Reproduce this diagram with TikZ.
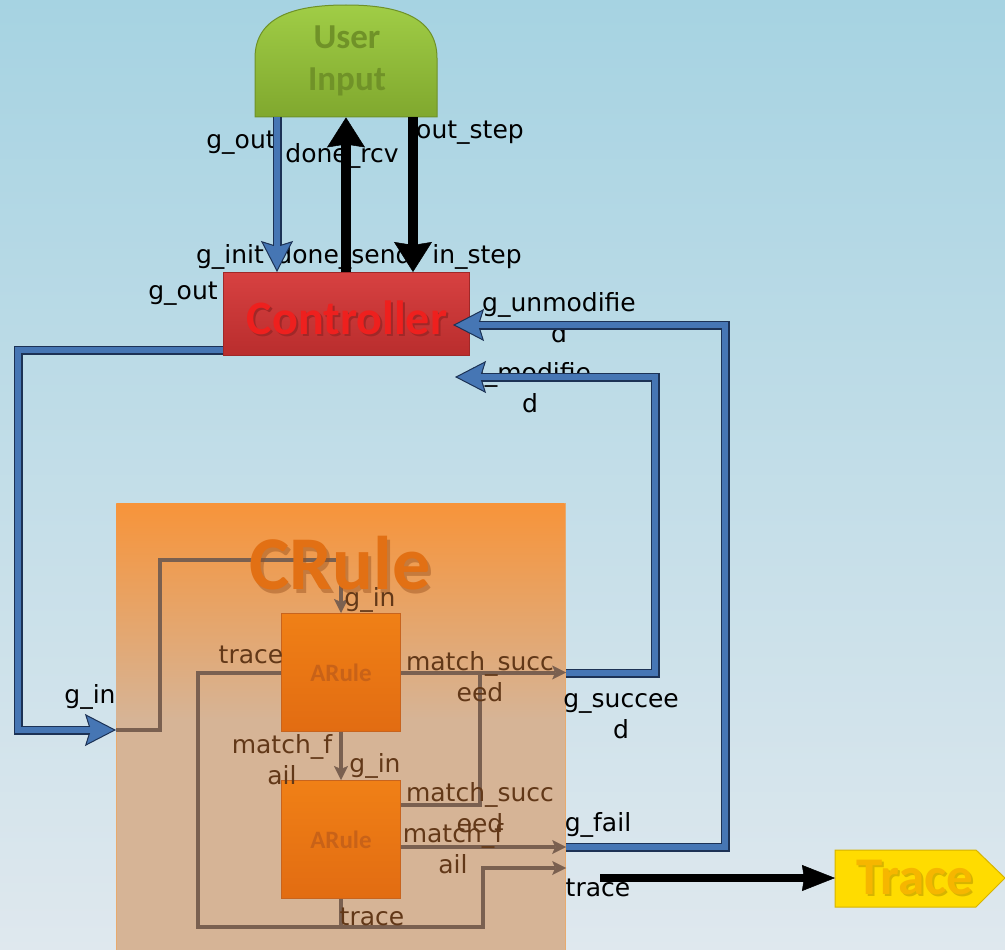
\documentclass[tikz,border=0pt]{standalone}
\usepackage{fontspec}
\setmainfont{DejaVu Sans}
\newfontfamily\tfont{Carlito}
\usetikzlibrary{arrows.meta}
\definecolor{bgTop}{RGB}{166,211,226}
\definecolor{bgBot}{RGB}{223,232,238}
\definecolor{uiTop}{RGB}{160,205,70}
\definecolor{uiBot}{RGB}{128,168,46}
\definecolor{uiEdge}{RGB}{110,145,40}
\definecolor{uiText}{RGB}{112,146,40}
\definecolor{ctTop}{RGB}{215,65,65}
\definecolor{ctBot}{RGB}{185,45,45}
\definecolor{ctEdge}{RGB}{160,40,40}
\definecolor{ctText}{RGB}{238,32,30}
\definecolor{blueD}{RGB}{28,50,85}
\definecolor{blueL}{RGB}{70,118,180}
\definecolor{crTop}{RGB}{247,148,58}
\definecolor{crBot}{RGB}{214,180,150}
\definecolor{crEdge}{RGB}{232,170,110}
\definecolor{crTitle}{RGB}{226,112,20}
\definecolor{crShadow}{RGB}{150,80,30}
\definecolor{arTop}{RGB}{240,128,22}
\definecolor{arBot}{RGB}{226,108,18}
\definecolor{arEdge}{RGB}{200,100,30}
\definecolor{arText}{RGB}{200,98,24}
\definecolor{brLine}{RGB}{122,96,80}
\definecolor{brText}{RGB}{98,56,24}
\definecolor{trFill}{RGB}{255,220,0}
\definecolor{trEdge}{RGB}{215,180,0}
\definecolor{trText}{RGB}{246,182,0}
\newcommand\bluepath[1]{\draw[bluedk,bluetip] #1; \draw[bluelt,shorten >=24pt] #1;}
\begin{document}
\begin{tikzpicture}[x=1pt,y=-1pt,
 lbl/.style={font=\fontsize{25}{31}\selectfont, inner sep=0pt, align=center, text=black},
 blbl/.style={lbl, text=brText},
 bluedk/.style={draw=blueD, line width=9pt, line join=miter},
 bluelt/.style={draw=blueL, line width=5.5pt, line join=miter},
 bluetip/.style={-{Stealth[length=31pt,width=32pt,inset=5pt,line width=1pt,fill=blueL]}},
 blk/.style={draw=black, line width=10pt, -{Stealth[length=30pt,width=38pt,inset=3pt,line width=0.5pt]}},
 brn/.style={draw=brLine, line width=4pt, line join=miter},
 brtip/.style={-{Stealth[length=14pt,width=14pt,inset=3pt,line width=0.5pt]}},
 arule/.style={anchor=north west, minimum width=119pt, minimum height=118pt, inner sep=0pt,
   top color=arTop, bottom color=arBot, draw=arEdge, line width=1pt,
   font=\tfont\bfseries\fontsize{25}{25}\selectfont, text=arText},
 ttl/.style={inner sep=0pt, font=\tfont\bfseries\fontsize{#1}{#1}\selectfont}
]
\useasboundingbox (0,0) rectangle (1005,950);
\shade[top color=bgTop,bottom color=bgBot] (0,0) rectangle (1005,950);

% ---------- coordinates for port levels
\coordinate (cA) at (277,0);
\coordinate (cB) at (346,0);
\coordinate (cC) at (413,0);
\coordinate (yO) at (0,350);
\coordinate (yIn) at (0,730);
\coordinate (yF) at (0,847);
\coordinate (yS) at (0,673);
\coordinate (y805) at (0,805);
\coordinate (y868) at (0,868);
\coordinate (y927) at (0,927);
\coordinate (gu) at (453,325);
\coordinate (gm) at (455,377);
\coordinate (tr0) at (600,878);

% ---------- CRule container
\node[anchor=north west, minimum width=449pt, minimum height=447pt, inner sep=0pt,
      fill=crBot, draw=crEdge, line width=1.2pt] (crule) at (116,503) {};
\shade[top color=crTop, bottom color=crBot] (116.6,503.6) rectangle (564.4,720);

% ---------- ARule boxes
\node[arule] (a1) at (281,613) {ARule};
\node[arule] (a2) at (281,780) {ARule};

% ---------- internal connectors
\draw[brn,brtip] (crule.west |- yIn) -- (160,730) -- (160,560) -| (a1.north);
\draw[brn] (a1.west) -| (198,927) -- (a2.south |- y927);
\draw[brn,brtip] (a1.east) -- (crule.east |- a1.east);
\draw[brn,brtip] (a1.south) -- (a2.north);
\draw[brn] (a2.east |- y805) -- (480,805) -- (480,673);
\draw[brn,brtip] (a2.east |- yF) -- (crule.east |- yF);
\draw[brn,brtip] (a2.south) -- (a2.south |- y927) -- (483,927) -- (483,868) -- (crule.east |- y868);

% CRule title
\node[ttl=76, text=crShadow, opacity=0.45] (crts) at (343,567) {CRule};
\node[ttl=76, text=crTitle] (crt) at (340,563) {CRule};

% ---------- User Input
\shade[top color=uiTop, bottom color=uiBot, draw=uiEdge, line width=1pt]
  (255,117) -- (255,58) .. controls (255,14) and (300,5) .. (346,5)
  .. controls (392,5) and (437,14) .. (437,58) -- (437,117) -- cycle;
\node[anchor=north west, minimum width=182pt, minimum height=112pt, inner sep=0pt] (ui) at (255,5) {};
\node[text=uiText, align=center, inner sep=0pt, font=\tfont\bfseries\fontsize{35}{42}\selectfont] (uit) at (347,61) {User\\Input};

% ---------- Controller
\node[anchor=north west, minimum width=246pt, minimum height=83pt, inner sep=0pt,
      top color=ctTop, bottom color=ctBot, draw=ctEdge, line width=1pt] (ctrl) at (223,272) {};
\node[ttl=48, text=ctEdge] (ctts) at (349,320) {Controller};
\node[ttl=48, text=ctText] (ctt) at (347,318) {Controller};

% ---------- Trace
\node[anchor=north west, minimum width=170pt, minimum height=57pt, inner sep=0pt] (trace) at (835,850) {};
\filldraw[fill=trFill, draw=trEdge, line width=1pt] (835,850) -- (976,850) -- (1005,878) -- (976,907) -- (835,907) -- cycle;
\node[ttl=53, text=trEdge] (trts) at (917,880) {Trace};
\node[ttl=53, text=trText] (trt) at (915,878) {Trace};

% ---------- labels
\node[lbl] (l1) at (241,143) {g\_out};
\node[lbl] (l2) at (342,156) {done\_rcv};
\node[lbl] (l3) at (470,133) {out\_step};
\node[lbl] (l4) at (230,257) {g\_init};
\node[lbl] (l5) at (344,257) {done\_send};
\node[lbl] (l6) at (477,257) {in\_step};
\node[lbl] (l7) at (183,294) {g\_out};
\node[lbl] (l8) at (559,318) {g\_unmodifie\\d};
\node[lbl] (l9) at (530,388) {g\_modifie\\d};
\node[lbl] (l10) at (90,697) {g\_in};
\node[lbl] (l11) at (621,716) {g\_succee\\d};
\node[lbl] (l12) at (598,825) {g\_fail};
\node[lbl] (l13) at (598,888) {trace};
\node[blbl] (m1) at (370,600) {g\_in};
\node[blbl] (m2) at (251,655) {trace};
\node[blbl] (m3) at (480,677) {match\_succ\\eed};
\node[blbl] (m4) at (282,760) {match\_f\\ail};
\node[blbl] (m5) at (375,766) {g\_in};
\node[blbl] (m6) at (480,808) {match\_succ\\eed};
\node[blbl] (m7) at (453,849) {match\_f\\ail};
\node[blbl] (m8) at (372,917) {trace};

% ---------- outer connectors
\bluepath{(ui.south -| cA) -- (ctrl.north -| cA)}
\draw[blk] (ctrl.north -| cB) -- (ui.south -| cB);
\draw[blk] (ui.south -| cC) -- (ctrl.north -| cC);
\bluepath{(ctrl.west |- yO) -| (18,730) -- (crule.west |- yIn)}
\bluepath{(crule.east |- yF) -| (725,325) -- (gu)}
\bluepath{(crule.east |- yS) -| (655,377) -- (gm)}
\draw[draw=black, line width=8pt, -{Stealth[length=33pt,width=26pt,inset=2pt,line width=0.5pt]}] (tr0) -- (trace.west |- tr0);
\end{tikzpicture}
\end{document}
